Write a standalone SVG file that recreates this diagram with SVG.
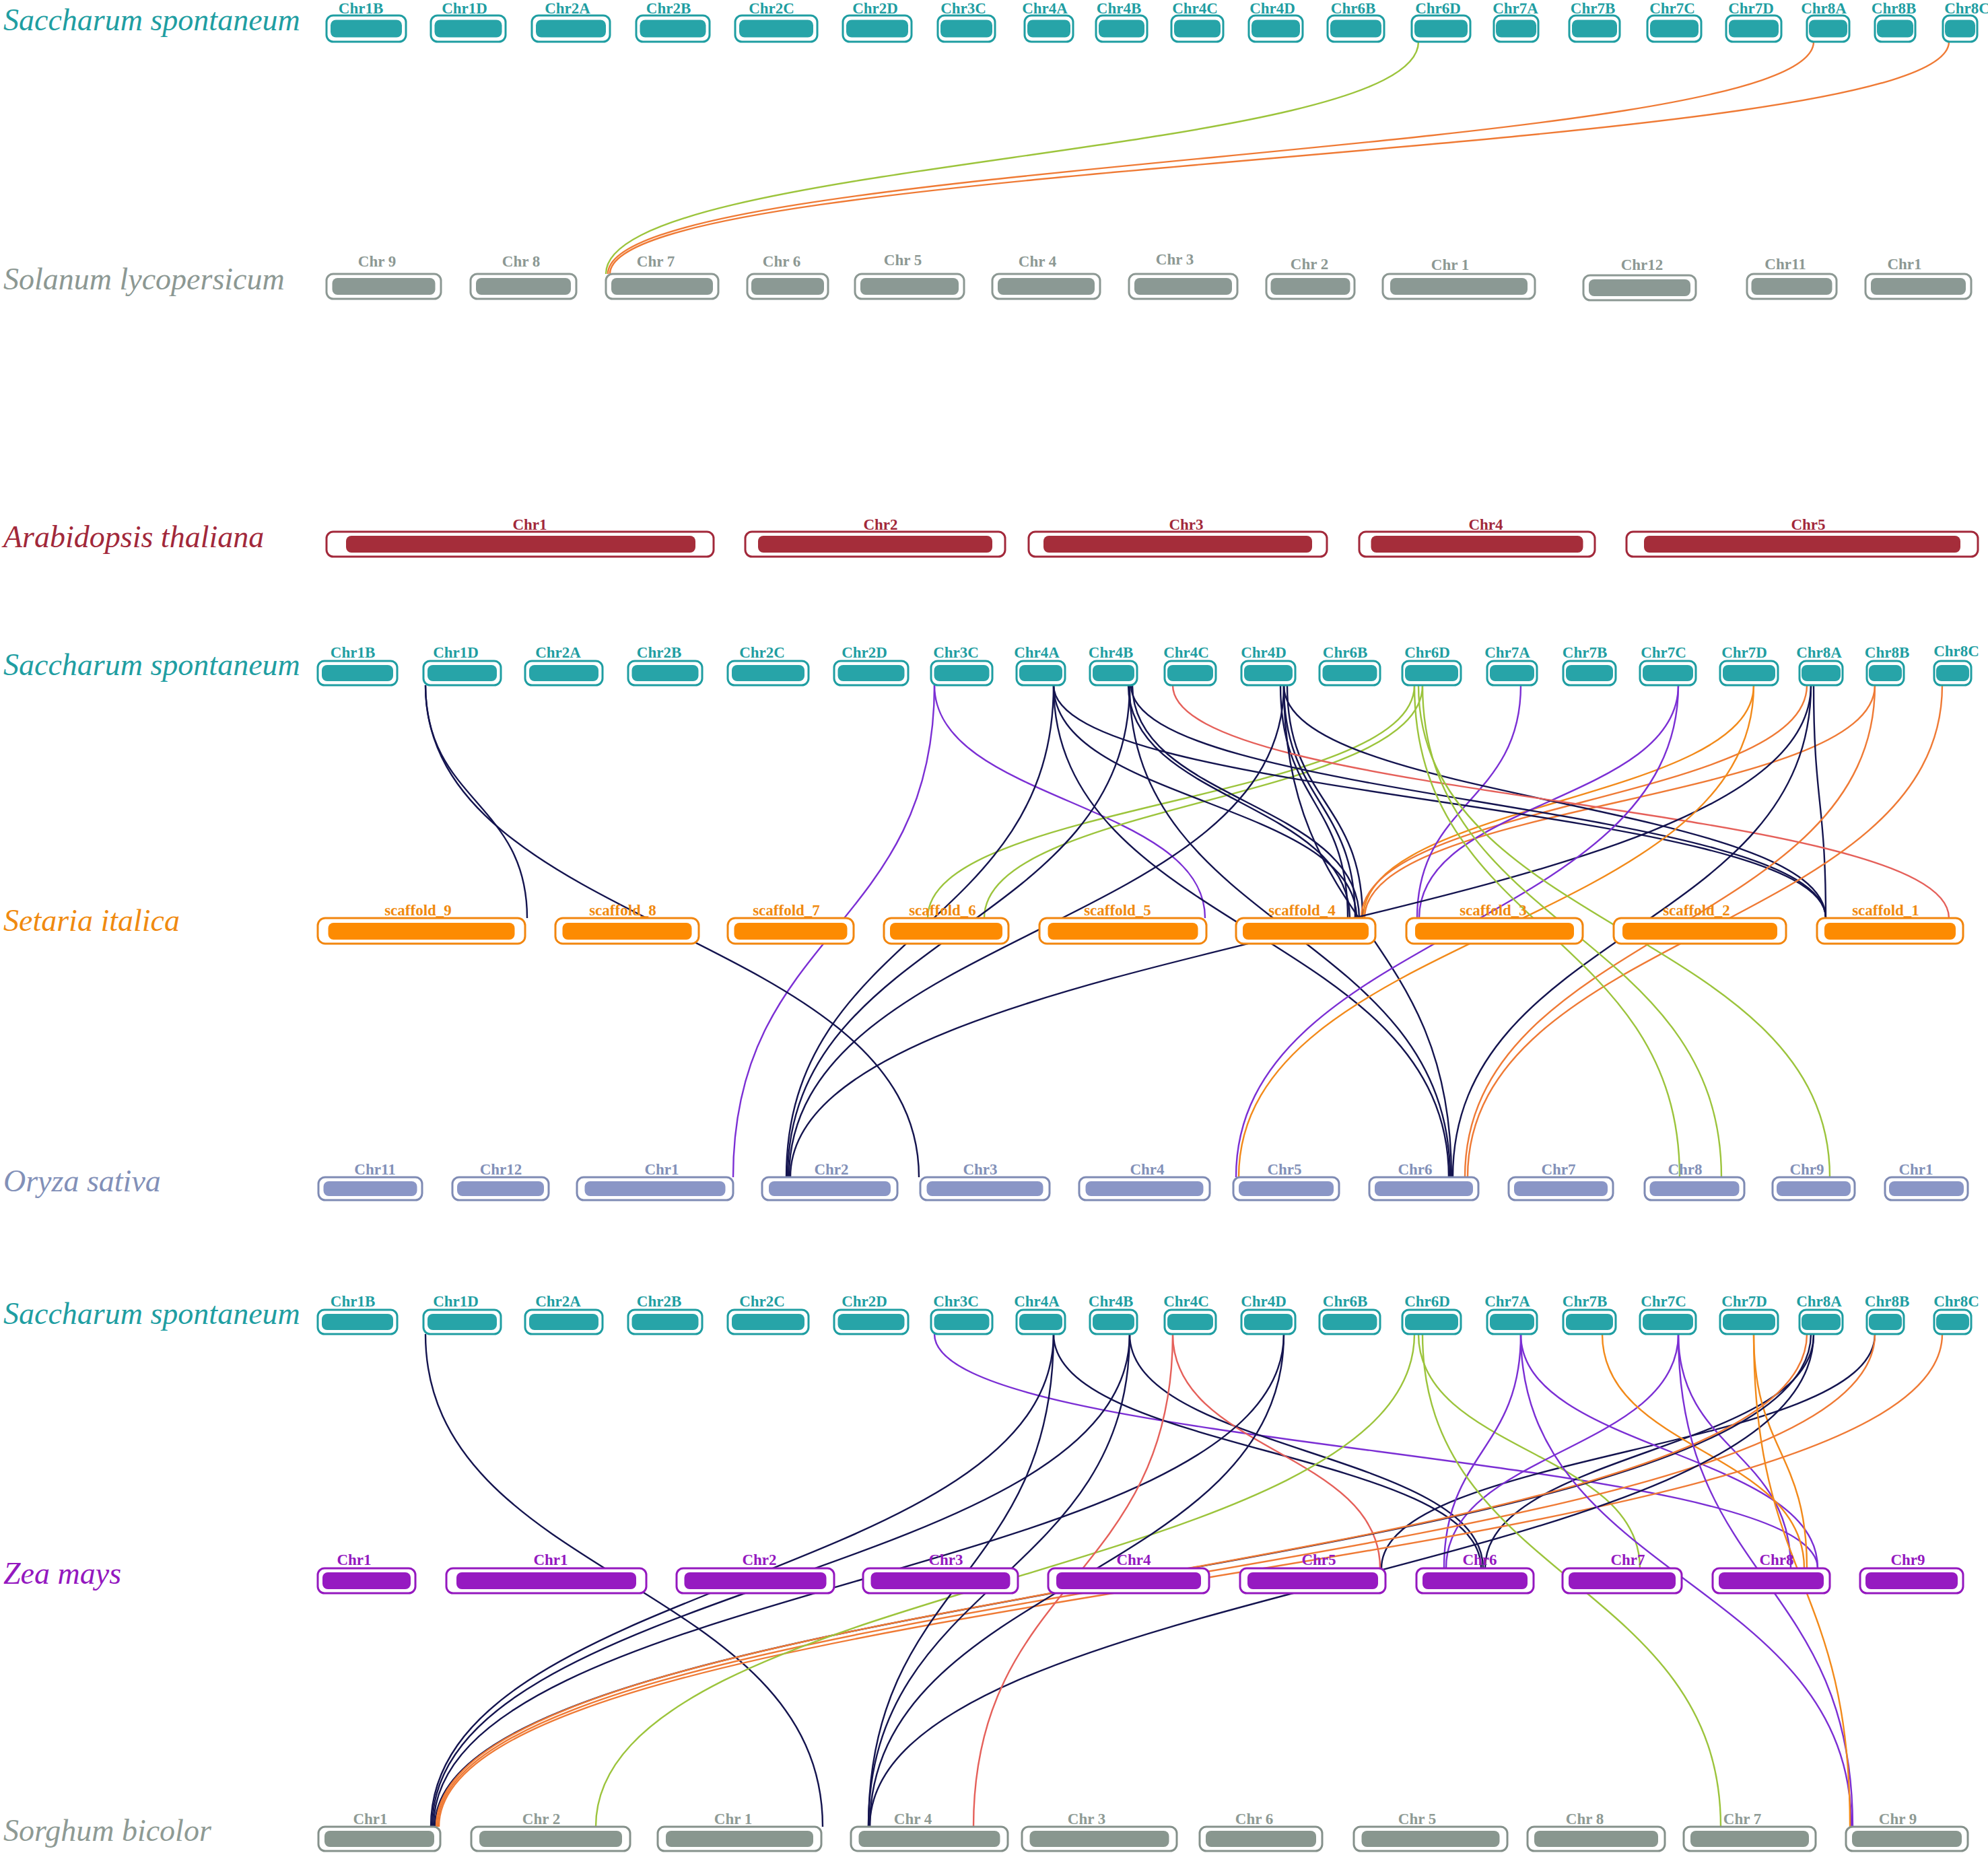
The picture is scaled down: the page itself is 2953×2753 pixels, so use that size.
<svg xmlns="http://www.w3.org/2000/svg" width="2953" height="2753" viewBox="0 0 2953 2753">
<style>
text{font-family:"Liberation Serif","Times New Roman",serif}
.sp{font-size:46px;font-style:italic}
.cl{font-size:23px;font-weight:bold;text-anchor:middle}
.o{fill:#fff;stroke-width:3}
.sac .o{stroke:#1f9ea2}.sac .i{fill:#27a4a8}.sac text{fill:#1f9ea2}
.sol .o{stroke:#8c9893}.sol .i{fill:#8b9994}.sol text{fill:#8c9893}
.ara .o{stroke:#a2283a}.ara .i{fill:#a52d3a}.ara text{fill:#a2283a}
.set .o{stroke:#f2860e}.set .i{fill:#fd8b02}.set text{fill:#f08a10}
.ory .o{stroke:#7f8bb4}.ory .i{fill:#8a96c6}.ory text{fill:#8290b8}
.zea .o{stroke:#9418bf}.zea .i{fill:#961ac1}.zea text{fill:#9418bf}
.sor .o{stroke:#85918b}.sor .i{fill:#89978f}.sor text{fill:#8e9a94}
#links path{fill:none;stroke-width:2.4}
.n{stroke:#14144f}.p{stroke:#7b2fd4}.g{stroke:#9cc43c}.r{stroke:#ef7a35}.y{stroke:#f28a1a}.d{stroke:#e5605a}
</style>
<rect width="2953" height="2753" fill="#fff"/>
<g id="links">
<path class="g" d="M2107,62 C2107,234 900,234 900,407"/>
<path class="r" d="M2694,62 C2694,234 903,234 903,407"/>
<path class="r" d="M2895,62 C2895,234 906,234 906,407"/>

<path class="n" d="M632,1018 C632,1191 783,1191 783,1364"/>
<path class="p" d="M1388,1018 C1388,1191 1790,1191 1790,1364"/>
<path class="g" d="M2101,1018 C2101,1191 1378,1191 1378,1364"/>
<path class="g" d="M2113,1018 C2113,1191 1462,1191 1462,1364"/>
<path class="n" d="M1565,1018 C1565,1191 2015,1191 2015,1364"/>
<path class="n" d="M1676,1018 C1676,1191 2005,1191 2005,1364"/>
<path class="n" d="M1682,1018 C1682,1191 2019,1191 2019,1364"/>
<path class="n" d="M1902,1018 C1902,1191 2002,1191 2002,1364"/>
<path class="n" d="M1907,1018 C1907,1191 2013,1191 2013,1364"/>
<path class="n" d="M1912,1018 C1912,1191 2024,1191 2024,1364"/>
<path class="y" d="M2605,1018 C2605,1191 2025,1191 2025,1364"/>
<path class="r" d="M2684,1018 C2684,1191 2022,1191 2022,1364"/>
<path class="r" d="M2785,1018 C2785,1191 2027,1191 2027,1364"/>
<path class="p" d="M2259,1018 C2259,1191 2105,1191 2105,1364"/>
<path class="p" d="M2493,1018 C2493,1191 2108,1191 2108,1364"/>
<path class="n" d="M1565,1018 C1565,1191 2712,1191 2712,1364"/>
<path class="n" d="M1680,1018 C1680,1191 2712,1191 2712,1364"/>
<path class="n" d="M1907,1018 C1907,1191 2712,1191 2712,1364"/>
<path class="n" d="M2694,1018 C2694,1191 2712,1191 2712,1364"/>
<path class="d" d="M1742,1018 C1742,1191 2895,1191 2895,1364"/>

<path class="p" d="M1388,1018 C1388,1383 1089,1383 1089,1749"/>
<path class="n" d="M632,1018 C632,1383 1365,1383 1365,1749"/>
<path class="n" d="M1565,1018 C1565,1383 1168,1383 1168,1749"/>
<path class="n" d="M1678,1018 C1678,1383 1170,1383 1170,1749"/>
<path class="n" d="M1907,1018 C1907,1383 1172,1383 1172,1749"/>
<path class="n" d="M2690,1018 C2690,1383 1174,1383 1174,1749"/>
<path class="n" d="M1565,1018 C1565,1383 2152,1383 2152,1749"/>
<path class="n" d="M1678,1018 C1678,1383 2154,1383 2154,1749"/>
<path class="n" d="M1907,1018 C1907,1383 2156,1383 2156,1749"/>
<path class="n" d="M2690,1018 C2690,1383 2158,1383 2158,1749"/>
<path class="r" d="M2785,1018 C2785,1383 2176,1383 2176,1749"/>
<path class="r" d="M2885,1018 C2885,1383 2180,1383 2180,1749"/>
<path class="p" d="M2493,1018 C2493,1383 1836,1383 1836,1749"/>
<path class="y" d="M2605,1018 C2605,1383 1840,1383 1840,1749"/>
<path class="g" d="M2101,1018 C2101,1383 2495,1383 2495,1749"/>
<path class="g" d="M2113,1018 C2113,1383 2557,1383 2557,1749"/>
<path class="g" d="M2107,1018 C2107,1383 2718,1383 2718,1749"/>

<path class="p" d="M1388,1982 C1388,2156 2700,2156 2700,2330"/>
<path class="n" d="M1565,1982 C1565,2156 2200,2156 2200,2330"/>
<path class="n" d="M1678,1982 C1678,2156 2203,2156 2203,2330"/>
<path class="n" d="M2694,1982 C2694,2156 2206,2156 2206,2330"/>
<path class="n" d="M2785,1982 C2785,2156 2052,2156 2052,2330"/>
<path class="d" d="M1742,1982 C1742,2156 2050,2156 2050,2330"/>
<path class="g" d="M2107,1982 C2107,2156 2436,2156 2436,2330"/>
<path class="p" d="M2259,1982 C2259,2156 2145,2156 2145,2330"/>
<path class="p" d="M2493,1982 C2493,2156 2148,2156 2148,2330"/>
<path class="p" d="M2259,1982 C2259,2156 2700,2156 2700,2330"/>
<path class="p" d="M2493,1982 C2493,2156 2660,2156 2660,2330"/>
<path class="y" d="M2380,1982 C2380,2156 2680,2156 2680,2330"/>
<path class="y" d="M2605,1982 C2605,2156 2684,2156 2684,2330"/>

<path class="n" d="M632,1982 C632,2348 1222,2348 1222,2714"/>
<path class="n" d="M1565,1982 C1565,2348 640,2348 640,2714"/>
<path class="n" d="M1678,1982 C1678,2348 642,2348 642,2714"/>
<path class="n" d="M1907,1982 C1907,2348 644,2348 644,2714"/>
<path class="n" d="M2690,1982 C2690,2348 646,2348 646,2714"/>
<path class="r" d="M2684,1982 C2684,2348 648,2348 648,2714"/>
<path class="r" d="M2785,1982 C2785,2348 650,2348 650,2714"/>
<path class="r" d="M2885,1982 C2885,2348 652,2348 652,2714"/>
<path class="g" d="M2101,1982 C2101,2348 885,2348 885,2714"/>
<path class="n" d="M1565,1982 C1565,2348 1290,2348 1290,2714"/>
<path class="n" d="M1678,1982 C1678,2348 1290,2348 1290,2714"/>
<path class="n" d="M1907,1982 C1907,2348 1292,2348 1292,2714"/>
<path class="n" d="M2694,1982 C2694,2348 1292,2348 1292,2714"/>
<path class="d" d="M1742,1982 C1742,2348 1446,2348 1446,2714"/>
<path class="g" d="M2113,1982 C2113,2348 2556,2348 2556,2714"/>
<path class="p" d="M2259,1982 C2259,2348 2750,2348 2750,2714"/>
<path class="p" d="M2493,1982 C2493,2348 2752,2348 2752,2714"/>
<path class="y" d="M2605,1982 C2605,2348 2748,2348 2748,2714"/>
</g>

<!-- Row 1 Saccharum -->
<g id="row1" class="sac">
<text class="sp" x="5" y="45">Saccharum spontaneum</text>
<g id="r1-Chr1B"><rect class="o" x="485" y="23" width="118" height="39" rx="10"/><rect class="i" x="491" y="29.5" width="106" height="26" rx="8"/><text class="cl" x="536" y="20">Chr1B</text></g>
<g id="r1-Chr1D"><rect class="o" x="640" y="23" width="111" height="39" rx="10"/><rect class="i" x="645.5" y="29.5" width="100" height="26" rx="8"/><text class="cl" x="690" y="20">Chr1D</text></g>
<g id="r1-Chr2A"><rect class="o" x="790" y="23" width="116" height="39" rx="10"/><rect class="i" x="796" y="29.5" width="104" height="26" rx="8"/><text class="cl" x="843" y="20">Chr2A</text></g>
<g id="r1-Chr2B"><rect class="o" x="945" y="23" width="109" height="39" rx="10"/><rect class="i" x="950.5" y="29.5" width="98" height="26" rx="8"/><text class="cl" x="993" y="20">Chr2B</text></g>
<g id="r1-Chr2C"><rect class="o" x="1092" y="23" width="122" height="39" rx="10"/><rect class="i" x="1098" y="29.5" width="110" height="26" rx="8"/><text class="cl" x="1146" y="20">Chr2C</text></g>
<g id="r1-Chr2D"><rect class="o" x="1252" y="23" width="102" height="39" rx="10"/><rect class="i" x="1257" y="29.5" width="92" height="26" rx="8"/><text class="cl" x="1300" y="20">Chr2D</text></g>
<g id="r1-Chr3C"><rect class="o" x="1393" y="23" width="85" height="39" rx="10"/><rect class="i" x="1397" y="29.5" width="77" height="26" rx="8"/><text class="cl" x="1431" y="20">Chr3C</text></g>
<g id="r1-Chr4A"><rect class="o" x="1522" y="23" width="72" height="39" rx="10"/><rect class="i" x="1526" y="29.5" width="64" height="26" rx="8"/><text class="cl" x="1552" y="20">Chr4A</text></g>
<g id="r1-Chr4B"><rect class="o" x="1628" y="23" width="76" height="39" rx="10"/><rect class="i" x="1632" y="29.5" width="68" height="26" rx="8"/><text class="cl" x="1662" y="20">Chr4B</text></g>
<g id="r1-Chr4C"><rect class="o" x="1740" y="23" width="77" height="39" rx="10"/><rect class="i" x="1744" y="29.5" width="69" height="26" rx="8"/><text class="cl" x="1775" y="20">Chr4C</text></g>
<g id="r1-Chr4D"><rect class="o" x="1855" y="23" width="80" height="39" rx="10"/><rect class="i" x="1859" y="29.5" width="72" height="26" rx="8"/><text class="cl" x="1890" y="20">Chr4D</text></g>
<g id="r1-Chr6B"><rect class="o" x="1972" y="23" width="84" height="39" rx="10"/><rect class="i" x="1976" y="29.5" width="76" height="26" rx="8"/><text class="cl" x="2010" y="20">Chr6B</text></g>
<g id="r1-Chr6D"><rect class="o" x="2097" y="23" width="87" height="39" rx="10"/><rect class="i" x="2101" y="29.5" width="79" height="26" rx="8"/><text class="cl" x="2136" y="20">Chr6D</text></g>
<g id="r1-Chr7A"><rect class="o" x="2219" y="23" width="66" height="39" rx="10"/><rect class="i" x="2222" y="29.5" width="60" height="26" rx="8"/><text class="cl" x="2251" y="20">Chr7A</text></g>
<g id="r1-Chr7B"><rect class="o" x="2331" y="23" width="75" height="39" rx="10"/><rect class="i" x="2335" y="29.5" width="67" height="26" rx="8"/><text class="cl" x="2366" y="20">Chr7B</text></g>
<g id="r1-Chr7C"><rect class="o" x="2447" y="23" width="80" height="39" rx="10"/><rect class="i" x="2451" y="29.5" width="72" height="26" rx="8"/><text class="cl" x="2484" y="20">Chr7C</text></g>
<g id="r1-Chr7D"><rect class="o" x="2564" y="23" width="82" height="39" rx="10"/><rect class="i" x="2568" y="29.5" width="74" height="26" rx="8"/><text class="cl" x="2601" y="20">Chr7D</text></g>
<g id="r1-Chr8A"><rect class="o" x="2684" y="23" width="63" height="39" rx="10"/><rect class="i" x="2687" y="29.5" width="57" height="26" rx="8"/><text class="cl" x="2709" y="20">Chr8A</text></g>
<g id="r1-Chr8B"><rect class="o" x="2785" y="23" width="60" height="39" rx="10"/><rect class="i" x="2788" y="29.5" width="54" height="26" rx="8"/><text class="cl" x="2813" y="20">Chr8B</text></g>
<g id="r1-Chr8C"><rect class="o" x="2886" y="23" width="51" height="39" rx="10"/><rect class="i" x="2889" y="29.5" width="45" height="26" rx="8"/><text class="cl" x="2922" y="20">Chr8C</text></g>
</g>

<!-- Row 2 Solanum -->
<g id="row2" class="sol">
<text class="sp" x="5" y="430">Solanum lycopersicum</text>
<g id="sl-Chr9"><rect class="o" x="485" y="407" width="170" height="37" rx="10"/><rect class="i" x="493.5" y="413" width="153" height="25" rx="8"/><text class="cl" x="560" y="396">Chr 9</text></g>
<g id="sl-Chr8"><rect class="o" x="699" y="407" width="157" height="37" rx="10"/><rect class="i" x="707" y="413" width="141" height="25" rx="8"/><text class="cl" x="774" y="396">Chr 8</text></g>
<g id="sl-Chr7"><rect class="o" x="900" y="407" width="167" height="37" rx="10"/><rect class="i" x="908" y="413" width="151" height="25" rx="8"/><text class="cl" x="974" y="396">Chr 7</text></g>
<g id="sl-Chr6"><rect class="o" x="1110" y="407" width="120" height="37" rx="10"/><rect class="i" x="1116" y="413" width="108" height="25" rx="8"/><text class="cl" x="1161" y="396">Chr 6</text></g>
<g id="sl-Chr5"><rect class="o" x="1270" y="407" width="162" height="37" rx="10"/><rect class="i" x="1278" y="413" width="146" height="25" rx="8"/><text class="cl" x="1341" y="394">Chr 5</text></g>
<g id="sl-Chr4"><rect class="o" x="1474" y="407" width="160" height="37" rx="10"/><rect class="i" x="1482" y="413" width="144" height="25" rx="8"/><text class="cl" x="1541" y="396">Chr 4</text></g>
<g id="sl-Chr3"><rect class="o" x="1677" y="407" width="161" height="37" rx="10"/><rect class="i" x="1685" y="413" width="145" height="25" rx="8"/><text class="cl" x="1745" y="393">Chr 3</text></g>
<g id="sl-Chr2"><rect class="o" x="1881" y="407" width="131" height="37" rx="10"/><rect class="i" x="1887.5" y="413" width="118" height="25" rx="8"/><text class="cl" x="1945" y="400">Chr 2</text></g>
<g id="sl-Chr1"><rect class="o" x="2054" y="407" width="226" height="37" rx="10"/><rect class="i" x="2065" y="413" width="204" height="25" rx="8"/><text class="cl" x="2154" y="401">Chr 1</text></g>
<g id="sl-Chr12"><rect class="o" x="2352" y="409" width="167" height="37" rx="10"/><rect class="i" x="2360" y="415" width="151" height="25" rx="8"/><text class="cl" x="2439" y="401">Chr12</text></g>
<g id="sl-Chr11"><rect class="o" x="2595" y="407" width="133" height="37" rx="10"/><rect class="i" x="2601.5" y="413" width="120" height="25" rx="8"/><text class="cl" x="2652" y="400">Chr11</text></g>
<g id="sl-Chr1b"><rect class="o" x="2771" y="407" width="157" height="37" rx="10"/><rect class="i" x="2779" y="413" width="141" height="25" rx="8"/><text class="cl" x="2829" y="400">Chr1</text></g>
</g>

<!-- Row 3 Arabidopsis -->
<g id="row3" class="ara">
<text class="sp" x="5" y="813">Arabidopsis thaliana</text>
<g id="at-Chr1"><rect class="o" x="485" y="790" width="575" height="37" rx="10"/><rect class="i" x="514" y="796" width="519" height="25" rx="8"/><text class="cl" x="787" y="787">Chr1</text></g>
<g id="at-Chr2"><rect class="o" x="1107" y="790" width="386" height="37" rx="10"/><rect class="i" x="1126" y="796" width="348" height="25" rx="8"/><text class="cl" x="1308" y="787">Chr2</text></g>
<g id="at-Chr3"><rect class="o" x="1528" y="790" width="443" height="37" rx="10"/><rect class="i" x="1550" y="796" width="399" height="25" rx="8"/><text class="cl" x="1762" y="787">Chr3</text></g>
<g id="at-Chr4"><rect class="o" x="2019" y="790" width="350" height="37" rx="10"/><rect class="i" x="2036.5" y="796" width="315" height="25" rx="8"/><text class="cl" x="2207" y="787">Chr4</text></g>
<g id="at-Chr5"><rect class="o" x="2416" y="790" width="522" height="37" rx="10"/><rect class="i" x="2442" y="796" width="470" height="25" rx="8"/><text class="cl" x="2686" y="787">Chr5</text></g>
</g>

<!-- Row 4 Saccharum -->
<g id="row4" class="sac">
<text class="sp" x="5" y="1003">Saccharum spontaneum</text>
<g id="r4-Chr1B"><rect class="o" x="472" y="982" width="118" height="36" rx="10"/><rect class="i" x="478" y="988" width="106" height="24" rx="8"/><text class="cl" x="524" y="977">Chr1B</text></g>
<g id="r4-Chr1D"><rect class="o" x="629" y="982" width="115" height="36" rx="10"/><rect class="i" x="635" y="988" width="103" height="24" rx="8"/><text class="cl" x="677" y="977">Chr1D</text></g>
<g id="r4-Chr2A"><rect class="o" x="780" y="982" width="115" height="36" rx="10"/><rect class="i" x="786" y="988" width="103" height="24" rx="8"/><text class="cl" x="829" y="977">Chr2A</text></g>
<g id="r4-Chr2B"><rect class="o" x="933" y="982" width="110" height="36" rx="10"/><rect class="i" x="938.5" y="988" width="99" height="24" rx="8"/><text class="cl" x="979" y="977">Chr2B</text></g>
<g id="r4-Chr2C"><rect class="o" x="1081" y="982" width="120" height="36" rx="10"/><rect class="i" x="1087" y="988" width="108" height="24" rx="8"/><text class="cl" x="1132" y="977">Chr2C</text></g>
<g id="r4-Chr2D"><rect class="o" x="1239" y="982" width="110" height="36" rx="10"/><rect class="i" x="1244.5" y="988" width="99" height="24" rx="8"/><text class="cl" x="1284" y="977">Chr2D</text></g>
<g id="r4-Chr3C"><rect class="o" x="1383" y="982" width="91" height="36" rx="10"/><rect class="i" x="1387.5" y="988" width="82" height="24" rx="8"/><text class="cl" x="1420" y="977">Chr3C</text></g>
<g id="r4-Chr4A"><rect class="o" x="1510" y="982" width="72" height="36" rx="10"/><rect class="i" x="1514" y="988" width="64" height="24" rx="8"/><text class="cl" x="1540" y="977">Chr4A</text></g>
<g id="r4-Chr4B"><rect class="o" x="1619" y="982" width="70" height="36" rx="10"/><rect class="i" x="1623" y="988" width="62" height="24" rx="8"/><text class="cl" x="1650" y="977">Chr4B</text></g>
<g id="r4-Chr4C"><rect class="o" x="1730" y="982" width="76" height="36" rx="10"/><rect class="i" x="1734" y="988" width="68" height="24" rx="8"/><text class="cl" x="1762" y="977">Chr4C</text></g>
<g id="r4-Chr4D"><rect class="o" x="1844" y="982" width="80" height="36" rx="10"/><rect class="i" x="1848" y="988" width="72" height="24" rx="8"/><text class="cl" x="1877" y="977">Chr4D</text></g>
<g id="r4-Chr6B"><rect class="o" x="1960" y="982" width="90" height="36" rx="10"/><rect class="i" x="1964.5" y="988" width="81" height="24" rx="8"/><text class="cl" x="1998" y="977">Chr6B</text></g>
<g id="r4-Chr6D"><rect class="o" x="2083" y="982" width="87" height="36" rx="10"/><rect class="i" x="2087" y="988" width="79" height="24" rx="8"/><text class="cl" x="2120" y="977">Chr6D</text></g>
<g id="r4-Chr7A"><rect class="o" x="2209" y="982" width="74" height="36" rx="10"/><rect class="i" x="2213" y="988" width="66" height="24" rx="8"/><text class="cl" x="2239" y="977">Chr7A</text></g>
<g id="r4-Chr7B"><rect class="o" x="2322" y="982" width="78" height="36" rx="10"/><rect class="i" x="2326" y="988" width="70" height="24" rx="8"/><text class="cl" x="2354" y="977">Chr7B</text></g>
<g id="r4-Chr7C"><rect class="o" x="2436" y="982" width="83" height="36" rx="10"/><rect class="i" x="2440" y="988" width="75" height="24" rx="8"/><text class="cl" x="2471" y="977">Chr7C</text></g>
<g id="r4-Chr7D"><rect class="o" x="2555" y="982" width="86" height="36" rx="10"/><rect class="i" x="2559" y="988" width="78" height="24" rx="8"/><text class="cl" x="2591" y="977">Chr7D</text></g>
<g id="r4-Chr8A"><rect class="o" x="2673" y="982" width="64" height="36" rx="10"/><rect class="i" x="2676" y="988" width="58" height="24" rx="8"/><text class="cl" x="2702" y="977">Chr8A</text></g>
<g id="r4-Chr8B"><rect class="o" x="2773" y="982" width="55" height="36" rx="10"/><rect class="i" x="2776" y="988" width="49" height="24" rx="8"/><text class="cl" x="2803" y="977">Chr8B</text></g>
<g id="r4-Chr8C"><rect class="o" x="2873" y="982" width="55" height="36" rx="10"/><rect class="i" x="2876" y="988" width="49" height="24" rx="8"/><text class="cl" x="2906" y="975">Chr8C</text></g>
</g>

<!-- Row 5 Setaria -->
<g id="row5" class="set">
<text class="sp" x="5" y="1383">Setaria italica</text>
<g id="si-s9"><rect class="o" x="472" y="1364" width="308" height="38" rx="11"/><rect class="i" x="487.5" y="1371" width="277" height="25" rx="8"/><text class="cl" x="621" y="1360">scaffold_9</text></g>
<g id="si-s8"><rect class="o" x="825" y="1364" width="213" height="38" rx="11"/><rect class="i" x="835.5" y="1371" width="192" height="25" rx="8"/><text class="cl" x="925" y="1360">scaffold_8</text></g>
<g id="si-s7"><rect class="o" x="1081" y="1364" width="187" height="38" rx="11"/><rect class="i" x="1090.5" y="1371" width="168" height="25" rx="8"/><text class="cl" x="1168" y="1360">scaffold_7</text></g>
<g id="si-s6"><rect class="o" x="1313" y="1364" width="185" height="38" rx="11"/><rect class="i" x="1322" y="1371" width="167" height="25" rx="8"/><text class="cl" x="1400" y="1360">scaffold_6</text></g>
<g id="si-s5"><rect class="o" x="1544" y="1364" width="248" height="38" rx="11"/><rect class="i" x="1556.5" y="1371" width="223" height="25" rx="8"/><text class="cl" x="1660" y="1360">scaffold_5</text></g>
<g id="si-s4"><rect class="o" x="1836" y="1364" width="207" height="38" rx="11"/><rect class="i" x="1846" y="1371" width="187" height="25" rx="8"/><text class="cl" x="1934" y="1360">scaffold_4</text></g>
<g id="si-s3"><rect class="o" x="2089" y="1364" width="262" height="38" rx="11"/><rect class="i" x="2102" y="1371" width="236" height="25" rx="8"/><text class="cl" x="2218" y="1360">scaffold_3</text></g>
<g id="si-s2"><rect class="o" x="2397" y="1364" width="256" height="38" rx="11"/><rect class="i" x="2410" y="1371" width="230" height="25" rx="8"/><text class="cl" x="2520" y="1360">scaffold_2</text></g>
<g id="si-s1"><rect class="o" x="2699" y="1364" width="217" height="38" rx="11"/><rect class="i" x="2710" y="1371" width="195" height="25" rx="8"/><text class="cl" x="2801" y="1360">scaffold_1</text></g>
</g>

<!-- Row 6 Oryza -->
<g id="row6" class="ory">
<text class="sp" x="5" y="1770">Oryza sativa</text>
<g id="os-Chr11"><rect class="o" x="473" y="1749" width="154" height="34" rx="10"/><rect class="i" x="480.5" y="1755" width="139" height="22" rx="8"/><text class="cl" x="557" y="1745">Chr11</text></g>
<g id="os-Chr12"><rect class="o" x="672" y="1749" width="143" height="34" rx="10"/><rect class="i" x="679" y="1755" width="129" height="22" rx="8"/><text class="cl" x="744" y="1745">Chr12</text></g>
<g id="os-Chr1"><rect class="o" x="857" y="1749" width="232" height="34" rx="10"/><rect class="i" x="868.5" y="1755" width="209" height="22" rx="8"/><text class="cl" x="983" y="1745">Chr1</text></g>
<g id="os-Chr2"><rect class="o" x="1132" y="1749" width="201" height="34" rx="10"/><rect class="i" x="1142" y="1755" width="181" height="22" rx="8"/><text class="cl" x="1235" y="1745">Chr2</text></g>
<g id="os-Chr3"><rect class="o" x="1367" y="1749" width="192" height="34" rx="10"/><rect class="i" x="1376.5" y="1755" width="173" height="22" rx="8"/><text class="cl" x="1456" y="1745">Chr3</text></g>
<g id="os-Chr4"><rect class="o" x="1603" y="1749" width="194" height="34" rx="10"/><rect class="i" x="1612.5" y="1755" width="175" height="22" rx="8"/><text class="cl" x="1704" y="1745">Chr4</text></g>
<g id="os-Chr5"><rect class="o" x="1832" y="1749" width="157" height="34" rx="10"/><rect class="i" x="1840" y="1755" width="141" height="22" rx="8"/><text class="cl" x="1908" y="1745">Chr5</text></g>
<g id="os-Chr6"><rect class="o" x="2034" y="1749" width="162" height="34" rx="10"/><rect class="i" x="2042" y="1755" width="146" height="22" rx="8"/><text class="cl" x="2102" y="1745">Chr6</text></g>
<g id="os-Chr7"><rect class="o" x="2241" y="1749" width="155" height="34" rx="10"/><rect class="i" x="2249" y="1755" width="139" height="22" rx="8"/><text class="cl" x="2315" y="1745">Chr7</text></g>
<g id="os-Chr8"><rect class="o" x="2443" y="1749" width="148" height="34" rx="10"/><rect class="i" x="2450.5" y="1755" width="133" height="22" rx="8"/><text class="cl" x="2503" y="1745">Chr8</text></g>
<g id="os-Chr9"><rect class="o" x="2633" y="1749" width="122" height="34" rx="10"/><rect class="i" x="2639" y="1755" width="110" height="22" rx="8"/><text class="cl" x="2684" y="1745">Chr9</text></g>
<g id="os-Chr10"><rect class="o" x="2800" y="1749" width="123" height="34" rx="10"/><rect class="i" x="2806" y="1755" width="111" height="22" rx="8"/><text class="cl" x="2846" y="1745">Chr1</text></g>
</g>

<!-- Row 7 Saccharum -->
<g id="row7" class="sac">
<text class="sp" x="5" y="1967">Saccharum spontaneum</text>
<g id="r7-Chr1B"><rect class="o" x="472" y="1946" width="118" height="36" rx="10"/><rect class="i" x="478" y="1952" width="106" height="24" rx="8"/><text class="cl" x="524" y="1941">Chr1B</text></g>
<g id="r7-Chr1D"><rect class="o" x="629" y="1946" width="115" height="36" rx="10"/><rect class="i" x="635" y="1952" width="103" height="24" rx="8"/><text class="cl" x="677" y="1941">Chr1D</text></g>
<g id="r7-Chr2A"><rect class="o" x="780" y="1946" width="115" height="36" rx="10"/><rect class="i" x="786" y="1952" width="103" height="24" rx="8"/><text class="cl" x="829" y="1941">Chr2A</text></g>
<g id="r7-Chr2B"><rect class="o" x="933" y="1946" width="110" height="36" rx="10"/><rect class="i" x="938.5" y="1952" width="99" height="24" rx="8"/><text class="cl" x="979" y="1941">Chr2B</text></g>
<g id="r7-Chr2C"><rect class="o" x="1081" y="1946" width="120" height="36" rx="10"/><rect class="i" x="1087" y="1952" width="108" height="24" rx="8"/><text class="cl" x="1132" y="1941">Chr2C</text></g>
<g id="r7-Chr2D"><rect class="o" x="1239" y="1946" width="110" height="36" rx="10"/><rect class="i" x="1244.5" y="1952" width="99" height="24" rx="8"/><text class="cl" x="1284" y="1941">Chr2D</text></g>
<g id="r7-Chr3C"><rect class="o" x="1383" y="1946" width="91" height="36" rx="10"/><rect class="i" x="1387.5" y="1952" width="82" height="24" rx="8"/><text class="cl" x="1420" y="1941">Chr3C</text></g>
<g id="r7-Chr4A"><rect class="o" x="1510" y="1946" width="72" height="36" rx="10"/><rect class="i" x="1514" y="1952" width="64" height="24" rx="8"/><text class="cl" x="1540" y="1941">Chr4A</text></g>
<g id="r7-Chr4B"><rect class="o" x="1619" y="1946" width="70" height="36" rx="10"/><rect class="i" x="1623" y="1952" width="62" height="24" rx="8"/><text class="cl" x="1650" y="1941">Chr4B</text></g>
<g id="r7-Chr4C"><rect class="o" x="1730" y="1946" width="76" height="36" rx="10"/><rect class="i" x="1734" y="1952" width="68" height="24" rx="8"/><text class="cl" x="1762" y="1941">Chr4C</text></g>
<g id="r7-Chr4D"><rect class="o" x="1844" y="1946" width="80" height="36" rx="10"/><rect class="i" x="1848" y="1952" width="72" height="24" rx="8"/><text class="cl" x="1877" y="1941">Chr4D</text></g>
<g id="r7-Chr6B"><rect class="o" x="1960" y="1946" width="90" height="36" rx="10"/><rect class="i" x="1964.5" y="1952" width="81" height="24" rx="8"/><text class="cl" x="1998" y="1941">Chr6B</text></g>
<g id="r7-Chr6D"><rect class="o" x="2083" y="1946" width="87" height="36" rx="10"/><rect class="i" x="2087" y="1952" width="79" height="24" rx="8"/><text class="cl" x="2120" y="1941">Chr6D</text></g>
<g id="r7-Chr7A"><rect class="o" x="2209" y="1946" width="74" height="36" rx="10"/><rect class="i" x="2213" y="1952" width="66" height="24" rx="8"/><text class="cl" x="2239" y="1941">Chr7A</text></g>
<g id="r7-Chr7B"><rect class="o" x="2322" y="1946" width="78" height="36" rx="10"/><rect class="i" x="2326" y="1952" width="70" height="24" rx="8"/><text class="cl" x="2354" y="1941">Chr7B</text></g>
<g id="r7-Chr7C"><rect class="o" x="2436" y="1946" width="83" height="36" rx="10"/><rect class="i" x="2440" y="1952" width="75" height="24" rx="8"/><text class="cl" x="2471" y="1941">Chr7C</text></g>
<g id="r7-Chr7D"><rect class="o" x="2555" y="1946" width="86" height="36" rx="10"/><rect class="i" x="2559" y="1952" width="78" height="24" rx="8"/><text class="cl" x="2591" y="1941">Chr7D</text></g>
<g id="r7-Chr8A"><rect class="o" x="2673" y="1946" width="64" height="36" rx="10"/><rect class="i" x="2676" y="1952" width="58" height="24" rx="8"/><text class="cl" x="2702" y="1941">Chr8A</text></g>
<g id="r7-Chr8B"><rect class="o" x="2773" y="1946" width="55" height="36" rx="10"/><rect class="i" x="2776" y="1952" width="49" height="24" rx="8"/><text class="cl" x="2803" y="1941">Chr8B</text></g>
<g id="r7-Chr8C"><rect class="o" x="2873" y="1946" width="55" height="36" rx="10"/><rect class="i" x="2876" y="1952" width="49" height="24" rx="8"/><text class="cl" x="2906" y="1941">Chr8C</text></g>
</g>

<!-- Row 8 Zea -->
<g id="row8" class="zea">
<text class="sp" x="5" y="2353">Zea mays</text>
<g id="zm-Chr1"><rect class="o" x="472" y="2330" width="145" height="37" rx="10"/><rect class="i" x="479" y="2336" width="131" height="25" rx="8"/><text class="cl" x="526" y="2325">Chr1</text></g>
<g id="zm-Chr1b"><rect class="o" x="663" y="2330" width="297" height="37" rx="10"/><rect class="i" x="678" y="2336" width="267" height="25" rx="8"/><text class="cl" x="818" y="2325">Chr1</text></g>
<g id="zm-Chr2"><rect class="o" x="1005" y="2330" width="234" height="37" rx="10"/><rect class="i" x="1016.5" y="2336" width="211" height="25" rx="8"/><text class="cl" x="1128" y="2325">Chr2</text></g>
<g id="zm-Chr3"><rect class="o" x="1282" y="2330" width="230" height="37" rx="10"/><rect class="i" x="1293.5" y="2336" width="207" height="25" rx="8"/><text class="cl" x="1405" y="2325">Chr3</text></g>
<g id="zm-Chr4"><rect class="o" x="1557" y="2330" width="239" height="37" rx="10"/><rect class="i" x="1569" y="2336" width="215" height="25" rx="8"/><text class="cl" x="1684" y="2325">Chr4</text></g>
<g id="zm-Chr5"><rect class="o" x="1842" y="2330" width="216" height="37" rx="10"/><rect class="i" x="1853" y="2336" width="194" height="25" rx="8"/><text class="cl" x="1959" y="2325">Chr5</text></g>
<g id="zm-Chr6"><rect class="o" x="2104" y="2330" width="174" height="37" rx="10"/><rect class="i" x="2113" y="2336" width="156" height="25" rx="8"/><text class="cl" x="2198" y="2325">Chr6</text></g>
<g id="zm-Chr7"><rect class="o" x="2321" y="2330" width="177" height="37" rx="10"/><rect class="i" x="2330" y="2336" width="159" height="25" rx="8"/><text class="cl" x="2418" y="2325">Chr7</text></g>
<g id="zm-Chr8"><rect class="o" x="2544" y="2330" width="174" height="37" rx="10"/><rect class="i" x="2553" y="2336" width="156" height="25" rx="8"/><text class="cl" x="2639" y="2325">Chr8</text></g>
<g id="zm-Chr9"><rect class="o" x="2763" y="2330" width="153" height="37" rx="10"/><rect class="i" x="2771" y="2336" width="137" height="25" rx="8"/><text class="cl" x="2834" y="2325">Chr9</text></g>
</g>

<!-- Row 9 Sorghum -->
<g id="row9" class="sor">
<text class="sp" x="5" y="2735">Sorghum bicolor</text>
<g id="sb-Chr1"><rect class="o" x="473" y="2714" width="181" height="36" rx="10"/><rect class="i" x="482" y="2720" width="163" height="24" rx="8"/><text class="cl" x="550" y="2710">Chr1</text></g>
<g id="sb-Chr2"><rect class="o" x="700" y="2714" width="236" height="36" rx="10"/><rect class="i" x="712" y="2720" width="212" height="24" rx="8"/><text class="cl" x="804" y="2710">Chr 2</text></g>
<g id="sb-Chr1b"><rect class="o" x="977" y="2714" width="243" height="36" rx="10"/><rect class="i" x="989" y="2720" width="219" height="24" rx="8"/><text class="cl" x="1089" y="2710">Chr 1</text></g>
<g id="sb-Chr4"><rect class="o" x="1264" y="2714" width="233" height="36" rx="10"/><rect class="i" x="1275.5" y="2720" width="210" height="24" rx="8"/><text class="cl" x="1356" y="2710">Chr 4</text></g>
<g id="sb-Chr3"><rect class="o" x="1518" y="2714" width="230" height="36" rx="10"/><rect class="i" x="1529.5" y="2720" width="207" height="24" rx="8"/><text class="cl" x="1614" y="2710">Chr 3</text></g>
<g id="sb-Chr6"><rect class="o" x="1782" y="2714" width="182" height="36" rx="10"/><rect class="i" x="1791" y="2720" width="164" height="24" rx="8"/><text class="cl" x="1863" y="2710">Chr 6</text></g>
<g id="sb-Chr5"><rect class="o" x="2011" y="2714" width="228" height="36" rx="10"/><rect class="i" x="2022.5" y="2720" width="205" height="24" rx="8"/><text class="cl" x="2105" y="2710">Chr 5</text></g>
<g id="sb-Chr8"><rect class="o" x="2269" y="2714" width="204" height="36" rx="10"/><rect class="i" x="2279" y="2720" width="184" height="24" rx="8"/><text class="cl" x="2354" y="2710">Chr 8</text></g>
<g id="sb-Chr7"><rect class="o" x="2501" y="2714" width="196" height="36" rx="10"/><rect class="i" x="2511" y="2720" width="176" height="24" rx="8"/><text class="cl" x="2588" y="2710">Chr 7</text></g>
<g id="sb-Chr9"><rect class="o" x="2742" y="2714" width="181" height="36" rx="10"/><rect class="i" x="2751" y="2720" width="163" height="24" rx="8"/><text class="cl" x="2819" y="2710">Chr 9</text></g>
</g>
</svg>
